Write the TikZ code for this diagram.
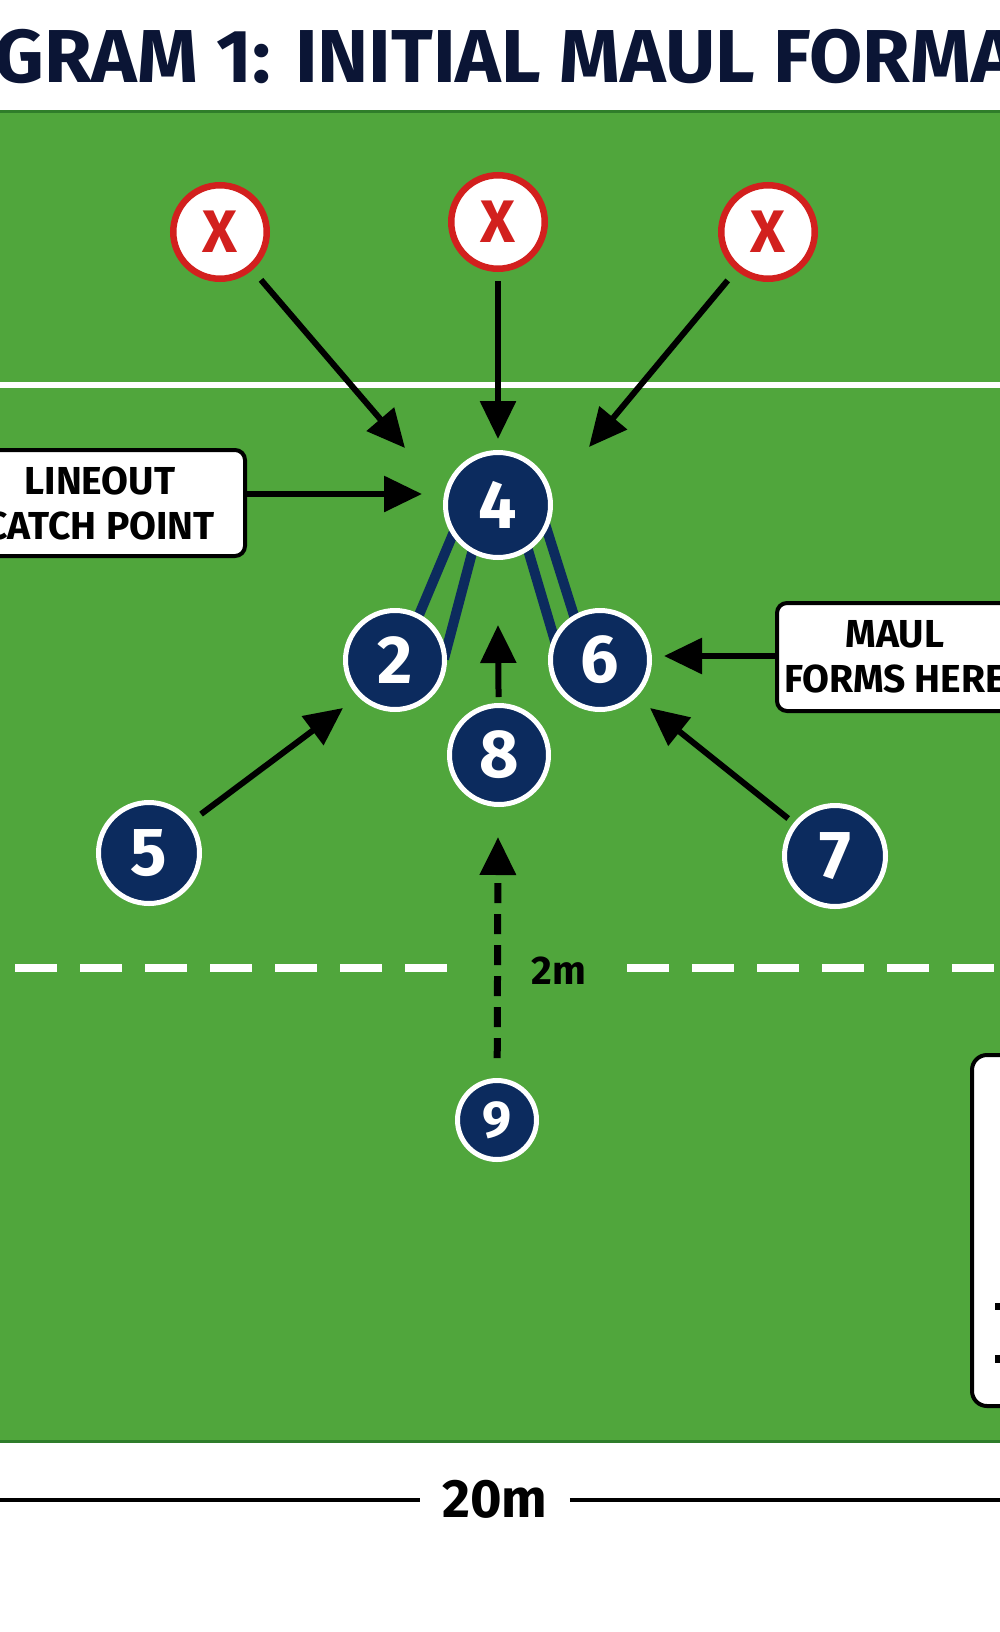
\documentclass[tikz,border=0pt]{standalone}
\usepackage{fontspec}
\setmainfont{Fira Sans}
\usetikzlibrary{arrows.meta,calc}
\definecolor{grass}{HTML}{50A63C}
\definecolor{grassdark}{HTML}{2F7D2A}
\definecolor{navy}{HTML}{0C2B5E}
\definecolor{titlenavy}{HTML}{0B1535}
\definecolor{xred}{HTML}{D2201E}
\pgfdeclarelayer{bg}
\pgfdeclarelayer{mid}
\pgfsetlayers{bg,mid,main}
\begin{document}
\begin{tikzpicture}[x=1pt,y=-1pt,
  player/.style={circle, fill=navy, draw=white, line width=5pt, text=white,
    font=\fontsize{68}{68}\selectfont\bfseries, inner sep=0pt},
  opp/.style={circle, fill=white, draw=xred, line width=6.5pt, text=xred,
    font=\fontsize{60}{60}\selectfont\bfseries, minimum size=93.5pt, inner sep=0pt},
  arr/.style={line width=6pt, black, -{Triangle[length=38pt,width=35pt]}},
  bind/.style={line width=10pt, navy},
  callout/.style={draw=black, fill=white, line width=4pt, rounded corners=10pt,
    align=center, font=\fontsize{39}{45}\selectfont\bfseries, inner sep=0pt},
  lbl/.style={text=black, inner sep=0pt}
]
\useasboundingbox (0,0) rectangle (1000,1632);
\clip (0,0) rectangle (1000,1632);

\begin{pgfonlayer}{bg}
  \fill[white] (0,0) rectangle (1000,1632);
  \fill[grass] (0,111) rectangle (1000,1442);
  \draw[grassdark, line width=3pt] (0,112) -- (1000,112);
  \draw[grassdark, line width=3pt] (0,1441) -- (1000,1441);
  \draw[white, line width=6pt] (0,385) -- (1000,385);
  \draw[white, line width=8pt, dash pattern=on 42pt off 23pt] (15,968) -- (447,968);
  \draw[white, line width=8pt, dash pattern=on 42pt off 23pt] (627,968) -- (994,968);
\end{pgfonlayer}

% title
\node[anchor=base west, font=\fontsize{75}{75}\selectfont\bfseries, text=titlenavy, inner sep=0pt]
  (title) at (-6,83) {\scalebox{1.03}[1]{GRAM 1: INITIAL MAUL FORMA}};

% opponents
\node[opp] (x1) at (220,232) {X};
\node[opp] (x2) at (498,222) {X};
\node[opp] (x3) at (768,232) {X};

% players
\node[player, minimum size=105pt] (p4) at (498,505) {4};
\node[player, minimum size=99pt] (p2) at (395,660) {2};
\node[player, minimum size=99pt] (p6) at (600,660) {6};
\node[player, minimum size=99pt] (p8) at (499,755) {8};
\node[player, minimum size=101pt] (p5) at (149,853) {5};
\node[player, minimum size=101pt] (p7) at (835,856) {7};
\node[player, minimum size=79pt, font=\fontsize{52}{52}\selectfont\bfseries] (p9) at (497,1120) {9};

% bindings
\begin{pgfonlayer}{mid}
  \draw[bind] ($(p4)+(-37,10)$) -- ($(p2)+(21,-38)$);
  \draw[bind] ($(p4)+(-21,29)$) -- ($(p2)+(49,-1)$);
  \draw[bind] ($(p4)+(43,6)$) -- ($(p6)+(-24,-38)$);
  \draw[bind] ($(p4)+(25,28)$) -- ($(p6)+(-43,-12)$);
\end{pgfonlayer}

% arrow targets
\coordinate (t1) at (405,448);
\coordinate (t2) at (498,439);
\coordinate (t3) at (589,447);
\coordinate (tL) at (422,494);
\coordinate (tM) at (664,656);
\coordinate (t5) at (343,708);
\coordinate (t7) at (650,708);
\coordinate (t8) at (498,625);
\coordinate (t9) at (498,837);

\draw[arr, shorten <=13pt] (x1) -- (t1);
\draw[arr, shorten <=9pt] (x2) -- (t2);
\draw[arr, shorten <=13pt] (x3) -- (t3);
\draw[arr, shorten <=12pt] (p5) -- (t5);
\draw[arr, shorten <=7pt] (p7) -- (t7);
\draw[arr, shorten <=6pt] (p8) -- (t8);
\draw[arr, line width=7pt, dash pattern=on 20pt off 11pt, shorten <=20pt] (p9) -- (t9);

% callouts
\node[callout, minimum width=290pt, minimum height=106pt] (lineout) at (100,503) {LINEOUT\\CATCH POINT};
\draw[arr] (lineout.east |- tL) -- (tL);
\node[callout, minimum width=236pt, minimum height=108pt] (maul) at (895,657) {MAUL\\FORMS HERE};
\draw[arr] (maul.west |- tM) -- (tM);

% partial legend box
\node[draw=black, fill=white, line width=4pt, rounded corners=15pt, minimum width=100pt,
  minimum height=351pt, inner sep=0pt] (legend) at (1022,1230.5) {};
\fill[black] (995,1303) rectangle (1001,1310);
\fill[black] (995,1355) rectangle (1001,1363);

% labels
\node[lbl, font=\fontsize{40}{40}\selectfont\bfseries] (lbl2m) at (559,971) {2m};
\node[lbl, font=\fontsize{54}{54}\selectfont\bfseries, inner xsep=22pt] (dim) at (495,1499) {20m};
\coordinate (dimL) at (0,1500);
\coordinate (dimR) at (1000,1500);
\draw[line width=3.3pt] (dimL) -- (dim.west |- dimL);
\draw[line width=3.3pt] (dim.east |- dimR) -- (dimR);
\end{tikzpicture}
\end{document}
